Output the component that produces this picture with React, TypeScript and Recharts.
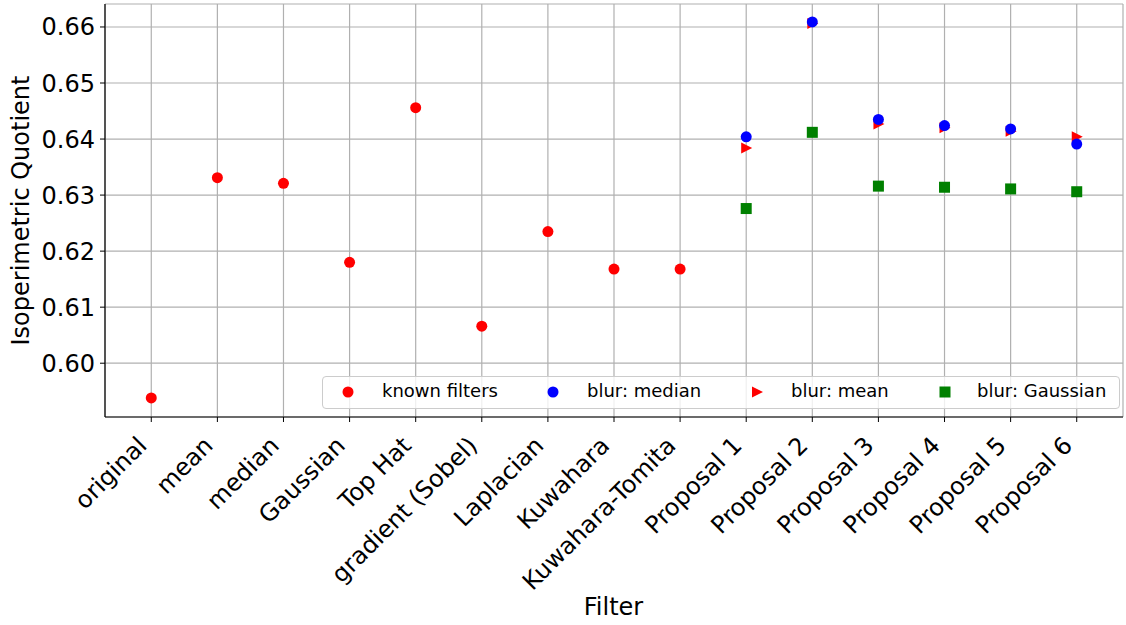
import {
  ScatterChart,
  Scatter,
  XAxis,
  YAxis,
  CartesianGrid,
} from "recharts";

const categories = [
  "original",
  "mean",
  "median",
  "Gaussian",
  "Top Hat",
  "gradient (Sobel)",
  "Laplacian",
  "Kuwahara",
  "Kuwahara-Tomita",
  "Proposal 1",
  "Proposal 2",
  "Proposal 3",
  "Proposal 4",
  "Proposal 5",
  "Proposal 6",
];

const knownValues = [0.5938, 0.6331, 0.6321, 0.618, 0.6456, 0.6066, 0.6235, 0.6168, 0.6168];
const medianValues = [0.6404, 0.6609, 0.6435, 0.6424, 0.6418, 0.6391];
const meanValues = [0.6384, 0.6606, 0.6427, 0.642, 0.6414, 0.6404];
const gaussValues = [0.6276, 0.6412, 0.6316, 0.6314, 0.6311, 0.6306];
const yTicks = [0.6, 0.61, 0.62, 0.63, 0.64, 0.65, 0.66];

const FONT = "DejaVu Sans, sans-serif";
const FS = 24;
const RED = "#ff0000";
const BLUE = "#0000ff";
const GREEN = "#008000";

const proposalStart = 9;
const known = knownValues.map((v, i) => ({ x: i, y: v }));
const median = medianValues.map((v, i) => ({ x: proposalStart + i, y: v }));
const mean = meanValues.map((v, i) => ({ x: proposalStart + i, y: v }));
const gauss = gaussValues.map((v, i) => ({ x: proposalStart + i, y: v }));

const Dot = (color: string) => (p: any) =>
  <circle cx={p.cx} cy={p.cy} r={5.5} fill={color} />;
const Tri = (p: any) => (
  <polygon
    points={`${p.cx - 5},${p.cy - 5.5} ${p.cx + 6},${p.cy} ${p.cx - 5},${p.cy + 5.5}`}
    fill={RED}
  />
);
const Sq = (p: any) => (
  <rect x={p.cx - 5.5} y={p.cy - 5.5} width={11} height={11} fill={GREEN} />
);

function XTick({ x, y, payload }: any) {
  const label = categories[payload.value] ?? "";
  const bx = x - 3;
  const by = y + 23;
  return (
    <text
      x={bx}
      y={by}
      transform={`rotate(-45, ${bx}, ${by})`}
      textAnchor="end"
      fontSize={FS}
      fontFamily={FONT}
      fill="#000"
    >
      {label}
    </text>
  );
}

// legend entries: marker centre and text start are relative to the box
const legendItems = [
  { label: "known filters", mx: 26, tx: 60, icon: <circle cx={6} cy={6} r={5.5} fill={RED} /> },
  { label: "blur: median", mx: 231, tx: 265, icon: <circle cx={6} cy={6} r={5.5} fill={BLUE} /> },
  { label: "blur: mean", mx: 435, tx: 469, icon: <polygon points="1,0.5 12,6 1,11.5" fill={RED} /> },
  { label: "blur: Gaussian", mx: 623, tx: 655, icon: <rect x={0.5} y={0.5} width={11} height={11} fill={GREEN} /> },
];

function LegendBox() {
  return (
    <div
      style={{
        position: "absolute",
        left: 322,
        top: 376,
        width: 798,
        height: 33,
        boxSizing: "border-box",
        border: "1px solid #cccccc",
        borderRadius: 4,
        background: "rgba(255,255,255,0.8)",
        fontFamily: FONT,
        fontSize: 18,
        color: "#000",
      }}
    >
      {legendItems.map((it) => (
        <div key={it.label}>
          <svg
            width={12}
            height={12}
            style={{ position: "absolute", left: it.mx - 7, top: 9 }}
          >
            {it.icon}
          </svg>
          <span style={{ position: "absolute", left: it.tx - 1, top: 3, whiteSpace: "nowrap" }}>
            {it.label}
          </span>
        </div>
      ))}
    </div>
  );
}

export default function App() {
  return (
    <div style={{ position: "absolute", left: 0, top: 0, width: 1126, height: 625, background: "#fff" }}>
      <ScatterChart
        width={1126}
        height={625}
        margin={{ top: 4, right: 3, left: 0, bottom: 0 }}
      >
        <CartesianGrid xAxisId="b" yAxisId="l" stroke="#b0b0b0" strokeWidth={1.2} />
        <XAxis
          xAxisId="b"
          type="number"
          dataKey="x"
          domain={[-0.7, 14.7]}
          ticks={categories.map((_, i) => i)}
          interval={0}
          height={208}
          tick={<XTick />}
          tickSize={5}
          tickLine={{ stroke: "#000" }}
          axisLine={{ stroke: "#000", strokeWidth: 1.2 }}
          allowDataOverflow
        />
        <XAxis
          xAxisId="t"
          orientation="top"
          type="number"
          domain={[-0.7, 14.7]}
          height={0}
          tick={false}
          tickLine={false}
          axisLine={{ stroke: "#000", strokeWidth: 1.2 }}
        />
        <YAxis
          yAxisId="l"
          type="number"
          dataKey="y"
          domain={[0.5904, 0.6641]}
          ticks={yTicks}
          width={105}
          tickSize={5}
          tickMargin={5}
          tickFormatter={(v: number) => v.toFixed(2)}
          tick={{ fontSize: FS, fontFamily: FONT, fill: "#000" }}
          tickLine={{ stroke: "#000" }}
          axisLine={{ stroke: "#000", strokeWidth: 1.2 }}
          allowDataOverflow
          label={{
            value: "Isoperimetric Quotient",
            angle: -90,
            position: "insideLeft",
            offset: 0,
            dx: 20,
            style: { fontSize: FS, fontFamily: FONT, fill: "#000", textAnchor: "middle" },
          }}
        />
        <YAxis
          yAxisId="r"
          orientation="right"
          type="number"
          domain={[0.5904, 0.6641]}
          width={0}
          tick={false}
          tickLine={false}
          axisLine={{ stroke: "#000", strokeWidth: 1.2 }}
        />
        <Scatter xAxisId="b" yAxisId="l" name="known filters" data={known} shape={Dot(RED)} isAnimationActive={false} />
        <Scatter xAxisId="b" yAxisId="l" name="blur: mean" data={mean} shape={Tri} isAnimationActive={false} />
        <Scatter xAxisId="b" yAxisId="l" name="blur: median" data={median} shape={Dot(BLUE)} isAnimationActive={false} />
        <Scatter xAxisId="b" yAxisId="l" name="blur: Gaussian" data={gauss} shape={Sq} isAnimationActive={false} />
      </ScatterChart>
      <LegendBox />
      <div
        style={{
          position: "absolute",
          left: 104,
          width: 1019,
          top: 593,
          textAlign: "center",
          fontFamily: FONT,
          fontSize: FS,
          color: "#000",
        }}
      >
        Filter
      </div>
    </div>
  );
}
